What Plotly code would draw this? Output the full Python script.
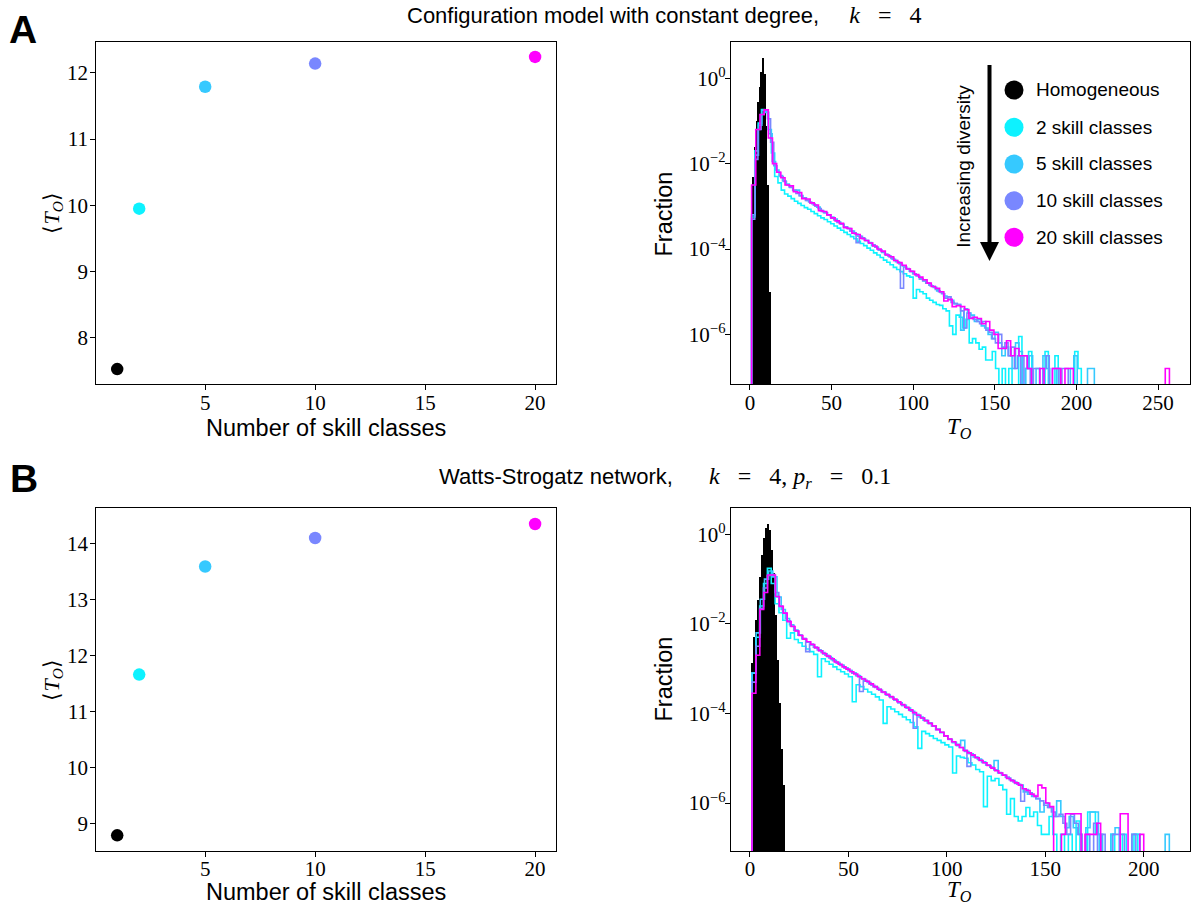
import numpy as np
import plotly.graph_objects as go

W, H = 1192, 905

# ---------------- data ----------------
n_classes = [1, 2, 5, 10, 20]
mean_T_config = [7.53, 9.95, 11.79, 12.14, 12.24]
mean_T_ws = [8.79, 11.66, 13.59, 14.10, 14.35]
series_labels = ["Homogeneous", "2 skill classes", "5 skill classes",
                 "10 skill classes", "20 skill classes"]
series_colors = ["#000000", "#0df2ff", "#36c9ff", "#7987ff", "#ff00ff"]

# homogeneous (single class) histograms: T_O value and log10(fraction)
hom_T_config = [1, 2, 3, 4, 5, 6, 7, 8, 9, 10, 11, 12]
hom_log_config = [-3.0, -2.3, -1.6, -1.0, -0.55, -0.2, 0.15, 0.49, 0.1, -1.1, -2.5, -5.0]
hom_T_ws = [1, 2, 3, 4, 5, 6, 7, 8, 9, 10, 11, 12, 13, 14, 15, 16, 17]
hom_log_ws = [-2.88, -2.29, -1.91, -1.47, -0.95, -0.46, -0.09, 0.13, 0.23, 0.1,
              -0.35, -0.87, -1.8, -2.81, -3.77, -4.81, -5.6]

# step histograms: bins start at T_O = 1, one bin width per series (2, 5, 10, 20 classes)
bin_start = 1.0
cfg_bin_width = [2.02, 2.10, 1.94, 2.56]
ws_bin_width = [1.96, 2.12, 1.95, 1.99]

# log10(fraction) per bin, None = empty bin
cfg_log_2 = [
    -3.25, -1.70, -1.05, -0.73, -0.78, -1.20, -1.75, -2.30, -2.45, -2.62,
    -2.71, -2.76, -2.82, -2.88, -2.93, -2.98, -3.03, -3.07, -3.12, -3.17,
    -3.22, -3.27, -3.31, -3.36, -3.41, -3.46, -3.51, -3.56, -3.61, -3.66,
    -3.71, -3.76, -3.82, -3.87, -3.92, -3.98, -4.03, -4.09, -4.14, -4.20,
    -4.26, -4.31, -4.37, -4.43, -4.48, -4.53, -4.58, -4.63, -4.66, -5.15,
    -4.95, -5.00, -5.05, -5.15, -5.20, -5.25, -5.30, -5.32, -5.40, -5.45,
    -5.80, -6.00, -5.55, -5.60, -5.85, -5.65, -6.20, -6.10, -6.20, -6.35,
    -6.30, -6.60, -6.60, -6.40, -6.80, None, -6.80, None, -6.80, None,
    None, -6.05, None, -6.80, -6.40, None, None, None, None, -6.40,
    None, None, -6.50, None, None, None, None, None, -6.40, -6.80]
cfg_log_5 = [
    -3.20, -1.80, -1.10, -0.75, -0.80, -1.30, -1.95, -2.15, -2.28, -2.40,
    -2.48, -2.55, -2.63, -2.62, -2.75, -2.80, -2.86, -2.92, -2.97, -3.02,
    -3.10, -3.15, -3.20, -3.25, -3.30, -3.37, -3.42, -3.48, -3.52, -3.58,
    -3.65, -3.70, -3.74, -3.80, -3.85, -3.92, -3.96, -4.02, -4.08, -4.14,
    -4.18, -4.24, -4.30, -4.35, -4.40, -4.46, -4.52, -4.58, -4.62, -4.70,
    -4.75, -4.80, -4.86, -4.90, -4.98, -5.02, -5.10, -5.12, -5.20, -5.28,
    -5.30, -5.90, -5.40, -5.50, -5.55, -5.70, -5.65, -5.80, -5.85, -6.00,
    -6.10, -5.95, -6.20, -6.50, -6.30, -6.50, -6.80, -6.20, -6.40, None,
    -6.80, -6.50, None, -6.80, None, -6.50, -6.80, None, None, -6.80,
    None, None, None, -6.80, -6.50, None, None, None, -6.80, -6.80]
cfg_log_10 = [
    -3.30, -1.90, -1.20, -0.85, -0.74, -0.95, -1.50, -2.05, -2.20, -2.30,
    -2.42, -2.50, -2.56, -2.62, -2.70, -2.75, -2.80, -2.86, -2.90, -2.94,
    -3.00, -3.05, -3.12, -3.15, -3.20, -3.28, -3.32, -3.38, -3.42, -3.48,
    -3.52, -3.58, -3.62, -3.85, -3.70, -3.76, -3.80, -3.86, -3.90, -3.96,
    -4.02, -4.07, -4.12, -4.16, -4.22, -4.27, -4.32, -4.92, -4.42, -4.47,
    -4.53, -4.58, -4.63, -4.70, -4.74, -4.80, -4.85, -4.88, -4.95, -5.00,
    -5.05, -5.15, -5.12, -5.25, -5.28, -5.30, -5.45, -5.85, -5.50, -5.60,
    -5.65, -5.70, -5.75, -5.70, -5.90, -5.95, -6.10, -6.20, -6.00, -6.30,
    -6.20, -6.50, -6.30, -6.80, -6.50, None, -6.50, -6.80, None, -6.80,
    -6.80, None, -6.80, -6.50, None, -6.80, -6.80, None, -6.80, -6.80]
cfg_log_20 = [
    -2.50, -1.20, -0.85, -0.74, -1.40, -2.00, -2.20, -2.33, -2.50, -2.52,
    -2.66, -2.68, -2.82, -2.83, -2.92, -2.97, -3.10, -3.12, -3.20, -3.27,
    -3.34, -3.40, -3.50, -3.52, -3.63, -3.66, -3.75, -3.80, -3.86, -3.93,
    -4.00, -4.05, -4.14, -4.18, -4.27, -4.32, -4.38, -4.47, -4.52, -4.60,
    -4.66, -4.72, -4.80, -4.88, -4.92, -5.00, -5.22, -5.18, -5.35, -5.33,
    -5.35, -5.42, -5.63, -5.60, -5.63, -5.75, -5.70, -5.90, -6.00, -6.33,
    -6.33, -6.15, -6.50, -6.33, -6.50, -6.50, -6.80, None, None, -6.80,
    None, None, -6.80, -6.80, None, -6.80, -6.80, None, None, None,
    None, None, None, None, None, None, None, None, None, None,
    None, None, None, None, None, None, None, None, None, -6.80]

ws_log_2 = [
    -3.10, -2.30, -1.60, -1.10, -0.76, -1.10, -1.55, -1.75, -1.92, -2.32,
    -2.20, -2.35, -2.42, -2.50, -2.56, -2.62, -2.68, -3.18, -2.78, -2.84,
    -2.90, -2.96, -3.02, -3.07, -3.12, -3.18, -3.74, -3.36, -3.40, -3.46,
    -3.52, -3.57, -3.63, -3.70, -4.22, -3.85, -3.90, -3.96, -4.02, -4.08,
    -4.14, -4.20, -4.30, -4.78, -4.40, -4.45, -4.50, -4.56, -4.60, -4.65,
    -4.70, -4.75, -5.33, -4.95, -4.98, -5.00, -5.10, -5.15, -5.25, -5.30,
    -6.08, -5.40, -5.50, -5.45, -5.60, -5.70, -6.25, -5.90, -6.30, -6.40,
    -6.30, -6.10, -6.30, -6.20, -6.50, -6.70, -6.70, -6.30, -6.70, None,
    -6.70, None, -6.70, None, -6.40, None, None, -6.20, -6.20, -6.70,
    None, None, None, -6.70, None, None, -6.70, None, None, -6.70]
ws_log_5 = [
    -3.10, -2.20, -1.45, -1.00, -0.82, -0.95, -1.40, -1.68, -1.88, -2.02,
    -2.14, -2.25, -2.33, -2.41, -2.47, -2.54, -2.60, -2.67, -2.73, -2.80,
    -2.86, -2.92, -2.98, -3.04, -3.10, -3.16, -3.22, -3.28, -3.34, -3.40,
    -3.46, -3.52, -3.58, -3.64, -3.70, -3.76, -3.82, -3.88, -3.95, -4.02,
    -4.08, -4.15, -4.21, -4.28, -4.36, -4.43, -4.51, -4.58, -4.65, -4.72,
    -4.60, -4.85, -4.90, -4.97, -5.02, -5.08, -5.15, -5.20, -5.05, -5.33,
    -5.38, -5.44, -5.50, -5.56, -5.60, -5.75, -5.80, -5.85, -5.90, -6.20,
    -6.00, -6.10, -6.30, -5.95, -6.30, -6.55, -6.30, -6.55, -6.70, None,
    -6.55, -6.20, -6.20, -6.70, None, None, -6.70, -6.55, None, None,
    None, -6.70, -6.70, None, None, None, None, None, None, -6.70]
ws_log_10 = [
    -3.30, -2.50, -1.65, -1.20, -0.92, -0.90, -1.30, -1.60, -1.76, -1.93,
    -2.05, -2.15, -2.25, -2.33, -2.62, -2.45, -2.52, -2.58, -2.64, -2.70,
    -2.76, -2.82, -2.88, -2.93, -2.99, -3.04, -3.10, -3.15, -3.51, -3.26,
    -3.31, -3.37, -3.42, -3.48, -3.53, -3.59, -3.64, -3.70, -3.76, -3.82,
    -3.87, -3.93, -4.33, -4.04, -4.10, -4.16, -4.22, -4.28, -4.35, -4.42,
    -4.50, -4.57, -4.63, -4.69, -4.76, -4.82, -5.18, -4.92, -4.98, -5.04,
    -5.10, -5.15, -5.20, -5.26, -5.32, -5.37, -5.42, -5.48, -5.53, -5.58,
    -5.96, -5.70, -5.77, -5.83, -5.90, -5.95, -6.05, -6.10, -6.20, -6.30,
    -6.25, -6.45, -6.70, -6.25, -6.45, -6.70, None, -6.70, None, -6.45,
    None, -6.70, None, None, -6.70, -6.70, -6.70, None, None, -6.70]
ws_log_20 = [
    -3.55, -2.70, -1.68, -1.30, -0.91, -0.91, -1.39, -1.61, -1.76, -1.95,
    -2.06, -2.16, -2.26, -2.34, -2.40, -2.46, -2.53, -2.60, -2.66, -2.72,
    -2.78, -2.85, -2.90, -2.96, -3.01, -3.07, -3.12, -3.18, -3.23, -3.28,
    -3.34, -3.40, -3.46, -3.52, -3.57, -3.62, -3.68, -3.74, -3.80, -3.86,
    -3.92, -3.98, -4.04, -4.10, -4.16, -4.22, -4.28, -4.36, -4.42, -4.50,
    -4.57, -4.63, -4.70, -4.76, -4.83, -4.88, -4.93, -4.99, -5.05, -5.10,
    -5.16, -5.22, -5.28, -5.33, -5.38, -5.45, -5.50, -5.55, -5.60, -5.68,
    -5.72, -5.80, -5.85, -5.60, -5.66, -6.00, -6.08, None, None, -6.70,
    -6.24, -6.24, -6.24, -6.24, None, -6.70, -6.70, -6.70, -6.45, None,
    None, None, None, None, -6.24, -6.24, None, None, None, -6.70]

x_ticks_left = [5, 10, 15, 20]
y_ticks_cfg = [8, 9, 10, 11, 12]
y_ticks_ws = [9, 10, 11, 12, 13, 14]
x_ticks_cfg_hist = [0, 50, 100, 150, 200, 250]
x_ticks_ws_hist = [0, 50, 100, 150, 200]
log_tick_exps = [0, -2, -4, -6]

# ---------------- helpers ----------------
FLOOR = 1e-14
SERIF = "Liberation Serif"
SANS = "Liberation Sans"
NB = "&nbsp;"


def px(x):
    return x / W


def py(y):
    return 1 - y / H


def step_xy(start, width, logs):
    n = len(logs)
    edges = start + width * np.arange(n + 1)
    vals = [10.0 ** v if v is not None else FLOOR for v in logs]
    xs = [edges[0]] + list(edges[:n]) + [edges[n], edges[n]]
    ys = [FLOOR] + vals + [vals[-1], FLOOR]
    return xs, ys


fig = go.Figure()

# scatter panels
for (xa, ya, means) in [("x", "y", mean_T_config), ("x3", "y3", mean_T_ws)]:
    fig.add_trace(go.Scatter(
        x=n_classes, y=means, mode="markers", xaxis=xa, yaxis=ya,
        marker=dict(size=12.5, color=series_colors, line=dict(width=0)),
        cliponaxis=False, showlegend=False))

# homogeneous bars
for (xa, ya, tv, lv, bw) in [("x2", "y2", hom_T_config, hom_log_config, 0.85),
                             ("x4", "y4", hom_T_ws, hom_log_ws, 0.72)]:
    fig.add_trace(go.Bar(
        x=tv, y=[10.0 ** v for v in lv], width=bw, xaxis=xa, yaxis=ya,
        marker=dict(color="black", line=dict(width=0)), showlegend=False))

# step histograms
cfg_logs = [cfg_log_2, cfg_log_5, cfg_log_10, cfg_log_20]
ws_logs = [ws_log_2, ws_log_5, ws_log_10, ws_log_20]
for (xa, ya, widths, logs) in [("x2", "y2", cfg_bin_width, cfg_logs),
                               ("x4", "y4", ws_bin_width, ws_logs)]:
    for i in range(4):
        xs, ys = step_xy(bin_start, widths[i], logs[i])
        fig.add_trace(go.Scatter(
            x=xs, y=ys, mode="lines", line=dict(shape="hv", width=1.6,
                                                color=series_colors[i + 1]),
            xaxis=xa, yaxis=ya, showlegend=False, hoverinfo="skip"))

axis_common = dict(showline=True, linecolor="black", linewidth=1, mirror=True,
                   ticks="outside", ticklen=5, tickwidth=1, tickcolor="black",
                   showgrid=False, zeroline=False,
                   tickfont=dict(family=SERIF, size=21, color="black"))
xstyle = dict(axis_common, ticklabelstandoff=-6)
ystyle_lin = dict(axis_common, ticklabelstandoff=-2)
ystyle_log = dict(axis_common, ticklabelstandoff=-5)

LX = [px(96.3), px(556)]
RX = [px(730.7), px(1190)]
TY = [py(384.3), py(41.7)]
BY = [py(851), py(508.3)]

log_ticktext = ["10<sup>%s</sup>" % (str(e).replace("-", "\u2212")) for e in log_tick_exps]
log_tickvals = [10.0 ** e for e in log_tick_exps]

fig.update_layout(
    width=W, height=H, margin=dict(l=0, r=0, t=0, b=0),
    paper_bgcolor="white", plot_bgcolor="white", showlegend=False,
    bargap=0,
    xaxis=dict(domain=LX, anchor="y", range=[0.05, 20.95], tickvals=x_ticks_left, **xstyle),
    yaxis=dict(domain=TY, anchor="x", range=[7.30, 12.47], tickvals=y_ticks_cfg, **ystyle_lin),
    xaxis2=dict(domain=RX, anchor="y2", range=[-11.8, 269.6], tickvals=x_ticks_cfg_hist, **xstyle),
    yaxis2=dict(domain=TY, anchor="x2", type="log", range=[-7.17, 0.857],
                tickvals=log_tickvals, ticktext=log_ticktext, **ystyle_log),
    xaxis3=dict(domain=LX, anchor="y3", range=[0.05, 20.95], tickvals=x_ticks_left, **xstyle),
    yaxis3=dict(domain=BY, anchor="x3", range=[8.51, 14.63], tickvals=y_ticks_ws, **ystyle_lin),
    xaxis4=dict(domain=RX, anchor="y4", range=[-9.8, 223.5], tickvals=x_ticks_ws_hist, **xstyle),
    yaxis4=dict(domain=BY, anchor="x4", type="log", range=[-7.07, 0.58],
                tickvals=log_tickvals, ticktext=log_ticktext, **ystyle_log),
)

ann = []


def text(x, y, t, size, family=SANS, angle=0, xanchor="center", color="black"):
    ann.append(dict(x=px(x), y=py(y), xref="paper", yref="paper", text=t,
                    showarrow=False, xanchor=xanchor, yanchor="middle",
                    textangle=angle, font=dict(family=family, size=size, color=color)))


def math(t):
    return '<span style="font-family:Liberation Serif;font-size:24px">%s</span>' % t


eq = NB * 3 + "=" + NB * 3
title_cfg = "Configuration model with constant degree," + NB + math(NB * 4 + "<i>k</i>" + eq + "4")
title_ws = ("Watts-Strogatz network," + NB
            + math(NB * 5 + "<i>k</i>" + eq + "4," + NB + "<i>p<sub>r</sub></i>" + eq + "0.1"))
text(663.5, 15.5, title_cfg, 22)
text(664.7, 478.5, title_ws, 22)
text(23, 29, "<b>A</b>", 39)
text(24, 479, "<b>B</b>", 39)
text(326, 428, "Number of skill classes", 23.5)
text(326, 892, "Number of skill classes", 23.5)
text(960, 428, "<i>T<sub>O</sub></i>", 23, family=SERIF)
text(960, 891, "<i>T<sub>O</sub></i>", 23, family=SERIF)
text(52.5, 213, "\u27e8<i>T<sub>O</sub></i>\u27e9", 22, family=SERIF, angle=-90)
text(52.5, 680, "\u27e8<i>T<sub>O</sub></i>\u27e9", 22, family=SERIF, angle=-90)
text(663.5, 214, "Fraction", 23.5, angle=-90)
text(663.5, 679, "Fraction", 23.5, angle=-90)
text(962.8, 166, "Increasing diversity", 19, angle=-90)

legend_y = [90, 127.3, 164, 200.7, 237.3]
shapes = []
r = 9.5
for lab, col, yy in zip(series_labels, series_colors, legend_y):
    shapes.append(dict(type="circle", xref="paper", yref="paper",
                       x0=px(1014 - r), x1=px(1014 + r), y0=py(yy + r), y1=py(yy - r),
                       fillcolor=col, line=dict(width=0)))
    text(1033.5, yy, lab, 19, xanchor="left")

# diversity arrow
shapes.append(dict(type="line", xref="paper", yref="paper",
                   x0=px(989.5), x1=px(989.5), y0=py(65), y1=py(244),
                   line=dict(color="black", width=4)))
shapes.append(dict(type="path", xref="paper", yref="paper",
                   path="M %f,%f L %f,%f L %f,%f Z" % (px(980), py(242), px(999), py(242),
                                                       px(989.5), py(261)),
                   fillcolor="black", line=dict(width=0)))

fig.update_layout(annotations=ann, shapes=shapes)
fig.write_html("out.html", config={"displayModeBar": False},
               post_script="document.body.style.margin='0px';document.body.style.overflow='hidden';")
